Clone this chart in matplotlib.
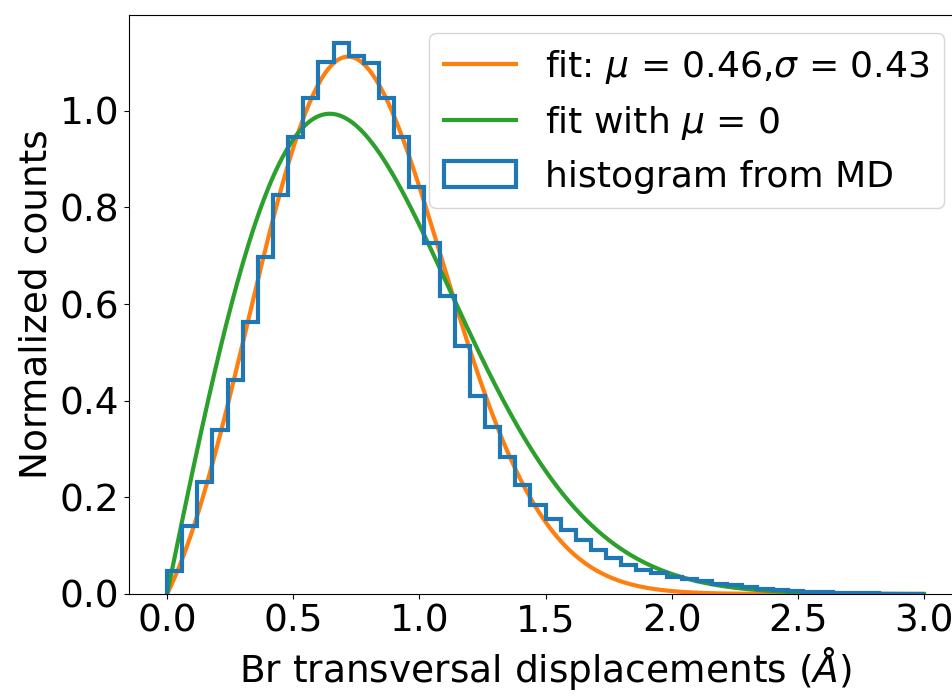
import matplotlib

matplotlib.use("Agg")
import matplotlib.pyplot as plt
import numpy as np

# histogram of Br transversal displacements (density, 50 bins on [0, 3])
bin_edges = np.linspace(0.0, 3.0, 51)
hist_counts = [
    0.048, 0.140, 0.232, 0.340, 0.442, 0.563, 0.698, 0.826, 0.945, 1.027,
    1.100, 1.141, 1.114, 1.099, 1.027, 0.945, 0.843, 0.727, 0.616, 0.513,
    0.410, 0.346, 0.284, 0.225, 0.184, 0.155, 0.132, 0.112, 0.091, 0.074,
    0.061, 0.050, 0.043, 0.036, 0.031, 0.026, 0.021, 0.018, 0.014, 0.011,
    0.009, 0.007, 0.005, 0.004, 0.003, 0.002, 0.002, 0.001, 0.001, 0.001,
]

# fit parameters (shifted gaussian times x, and the mu = 0 case)
fit_mu = 0.46
fit_sigma = 0.43
fit_amp = 1.854
zero_sigma = 0.645
zero_amp = 2.54


def main() -> None:
    plt.rcParams["font.size"] = 27
    fig = plt.figure(figsize=(9.53, 6.96), dpi=100)
    # the right spine sits just past the saved canvas, as in the reference
    ax = fig.add_axes([129.2 / 953, 102 / 696, 832.6 / 953, 579 / 696])

    x = np.linspace(0.0, 3.0, 400)
    y_fit = fit_amp * x * np.exp(-((x - fit_mu) ** 2) / (2 * fit_sigma**2))
    y_zero = zero_amp * x * np.exp(-(x**2) / (2 * zero_sigma**2))

    ax.plot(x, y_fit, color="#ff7f0e", lw=3,
            label=r"fit: $\mu$ = %.2f,$\sigma$ = %.2f" % (fit_mu, fit_sigma))
    ax.plot(x, y_zero, color="#2ca02c", lw=3, label=r"fit with $\mu$ = 0")

    centers = 0.5 * (bin_edges[:-1] + bin_edges[1:])
    ax.hist(centers, bins=bin_edges, weights=hist_counts, histtype="step",
            color="#1f77b4", lw=3, label="histogram from MD")

    ax.set_xlim(-0.15, 3.15)
    ax.set_ylim(0, max(hist_counts) * 1.05)
    ax.set_xticks([0.0, 0.5, 1.0, 1.5, 2.0, 2.5, 3.0])
    ax.set_yticks([0.0, 0.2, 0.4, 0.6, 0.8, 1.0])
    ax.set_xlabel(r"Br transversal displacements ($\AA$)")
    ax.set_ylabel("Normalized counts")
    ax.legend(loc="upper right", fontsize=26)

    fig.savefig("out.png")
    plt.close(fig)


if __name__ == "__main__":
    main()
